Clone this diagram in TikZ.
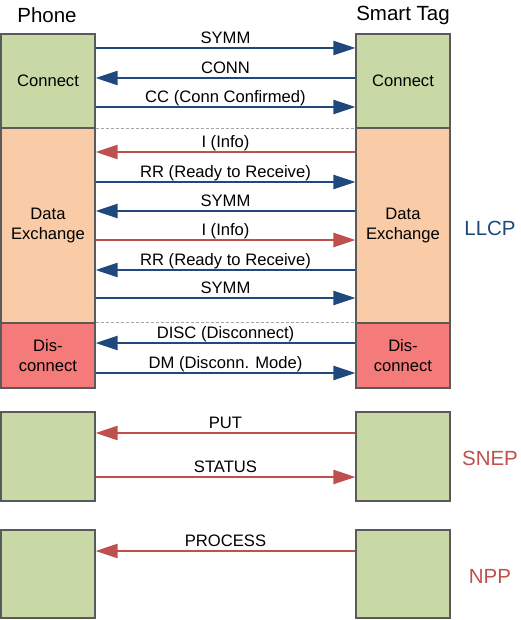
\documentclass[tikz,border=0pt]{standalone}
\usepackage{fontspec}
\setmainfont{Liberation Sans}
\usetikzlibrary{arrows.meta}

\definecolor{boxgreen}{RGB}{201,217,165}
\definecolor{boxpeach}{RGB}{249,203,166}
\definecolor{boxred}{RGB}{244,123,121}
\definecolor{boxline}{RGB}{90,90,90}
\definecolor{llcpblue}{RGB}{31,73,125}
\definecolor{snepred}{RGB}{192,80,77}

\tikzset{
  box/.style={draw=boxline, line width=1.2pt, minimum width=94pt, inner sep=0pt,
    align=center, font=\fontsize{16.6}{20.5}\selectfont},
  msg/.style={line width=2.2pt, -{Triangle[length=22pt,width=14pt]}},
  bluemsg/.style={msg, draw=llcpblue, fill=llcpblue},
  redmsg/.style={msg, draw=snepred, fill=snepred},
  msglabel/.style={midway, above, inner sep=1.5pt, text depth=.2em, text=black,
    font=\fontsize{16.6}{20}\selectfont},
  header/.style={font=\fontsize{20.5}{24}\selectfont},
  sepline/.style={densely dashed, draw=gray!70, line width=0.6pt}
}

\begin{document}
\begin{tikzpicture}[x=1pt, y=-1pt]
    \useasboundingbox (0,0) rectangle (520,620);
    % Headers
    \node[header] (phone) at (47,15) {Phone};
    \node[header] (tag) at (403,15) {Smart Tag};
    % Phone side boxes
    \node[box, fill=boxgreen, minimum height=94pt] (pcon) at (48,81) {Connect};
    \node[box, fill=boxpeach, minimum height=195pt] (pdat) at (48,225.5) {Data\\Exchange};
    \node[box, fill=boxred, minimum height=65pt] (pdis) at (48,355.5) {Dis-\\connect};
    \node[box, fill=boxgreen, minimum height=89pt] (psnep) at (48,456.5) {};
    \node[box, fill=boxgreen, minimum height=88pt] (pnpp) at (48,574) {};
    % Smart Tag side boxes
    \node[box, fill=boxgreen, minimum height=94pt] (tcon) at (403,81) {Connect};
    \node[box, fill=boxpeach, minimum height=195pt] (tdat) at (403,225.5) {Data\\Exchange};
    \node[box, fill=boxred, minimum height=65pt] (tdis) at (403,355.5) {Dis-\\connect};
    \node[box, fill=boxgreen, minimum height=89pt] (tsnep) at (403,456.5) {};
    \node[box, fill=boxgreen, minimum height=88pt] (tnpp) at (403,574) {};
    % Protocol names
    \node[header, text=llcpblue] (llcp) at (490,228) {LLCP};
    \node[header, text=snepred] (snep) at (490,458) {SNEP};
    \node[header, text=snepred] (npp) at (490,576) {NPP};
    % Phase separators
    \draw[sepline] (pcon.south east) -- (tcon.south west);
    \draw[sepline] (pdis.north east) -- (tdis.north west);
    % Connect
    \draw[bluemsg] (pcon.east |- 0,48) -- (tcon.west |- 0,48) node[msglabel]{SYMM};
    \draw[bluemsg] (tcon.west |- 0,78) -- (pcon.east |- 0,78) node[msglabel]{CONN};
    \draw[bluemsg] (pcon.east |- 0,107) -- (tcon.west |- 0,107) node[msglabel]{CC (Conn Confirmed)};
    % Data exchange
    \draw[redmsg] (tdat.west |- 0,152) -- (pdat.east |- 0,152) node[msglabel]{I (Info)};
    \draw[bluemsg] (pdat.east |- 0,182) -- (tdat.west |- 0,182) node[msglabel]{RR (Ready to Receive)};
    \draw[bluemsg] (tdat.west |- 0,211) -- (pdat.east |- 0,211) node[msglabel]{SYMM};
    \draw[redmsg] (pdat.east |- 0,240) -- (tdat.west |- 0,240) node[msglabel]{I (Info)};
    \draw[bluemsg] (tdat.west |- 0,270) -- (pdat.east |- 0,270) node[msglabel]{RR (Ready to Receive)};
    \draw[bluemsg] (pdat.east |- 0,298) -- (tdat.west |- 0,298) node[msglabel]{SYMM};
    % Disconnect
    \draw[bluemsg] (tdis.west |- 0,343) -- (pdis.east |- 0,343) node[msglabel]{DISC (Disconnect)};
    \draw[bluemsg] (pdis.east |- 0,373) -- (tdis.west |- 0,373) node[msglabel]{DM (Disconn. Mode)};
    % SNEP
    \draw[redmsg] (tsnep.west |- 0,433) -- (psnep.east |- 0,433) node[msglabel]{PUT};
    \draw[redmsg] (psnep.east |- 0,477) -- (tsnep.west |- 0,477) node[msglabel]{STATUS};
    % NPP
    \draw[redmsg] (tnpp.west |- 0,551) -- (pnpp.east |- 0,551) node[msglabel]{PROCESS};
\end{tikzpicture}
\end{document}
